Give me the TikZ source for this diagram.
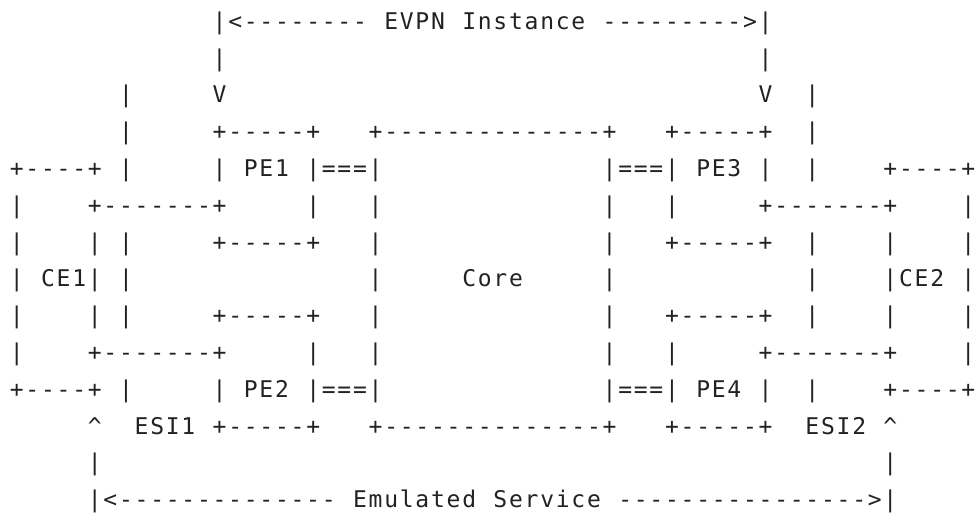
\documentclass[tikz,border=0pt]{standalone}
\usepackage{fontspec}
\newfontfamily\asciifont{DejaVu Sans Mono}
\definecolor{ink}{HTML}{222222}
\ExplSyntaxOn
\NewDocumentCommand\asciiline{m}
 {
  \str_map_inline:nn {#1}
   {
    \str_if_eq:nnTF {##1} {.}
     { \hbox_to_wd:nn {15.6pt} { } }
     { \hbox_to_wd:nn {15.6pt} { \hfil ##1 \hfil } }
   }
 }
\ExplSyntaxOff
\tikzset{asc/.style={anchor=base west, inner sep=0pt, outer sep=0pt,
  font=\asciifont\fontsize{23pt}{23pt}\selectfont, text=ink}}
\newcommand\aseg[3]{\node[asc] (r#1c#2) at ({9+#2*15.6},{29.3+(#1-1)*36.8}) {\asciiline{#3}};}
\begin{document}
\begin{tikzpicture}[x=1pt,y=-1pt]
\fill[white] (0,0) rectangle (977,514);
\useasboundingbox (0,0) rectangle (977,514);
% row 1
\aseg{1}{13}{|<--------}\aseg{1}{24}{EVPN}\aseg{1}{29}{Instance}\aseg{1}{38}{--------->|}
% row 2
\aseg{2}{13}{|}\aseg{2}{48}{|}
% row 3
\aseg{3}{7}{|}\aseg{3}{13}{V}\aseg{3}{48}{V}\aseg{3}{51}{|}
% row 4
\aseg{4}{7}{|}\aseg{4}{13}{+-----+}\aseg{4}{23}{+--------------+}\aseg{4}{42}{+-----+}\aseg{4}{51}{|}
% row 5
\aseg{5}{0}{+----+}\aseg{5}{7}{|}\aseg{5}{13}{|}\aseg{5}{15}{PE1}\aseg{5}{19}{|===|}
\aseg{5}{38}{|===|}\aseg{5}{44}{PE3}\aseg{5}{48}{|}\aseg{5}{51}{|}\aseg{5}{56}{+----+}
% row 6
\aseg{6}{0}{|}\aseg{6}{5}{+-------+}\aseg{6}{19}{|}\aseg{6}{23}{|}\aseg{6}{38}{|}
\aseg{6}{42}{|}\aseg{6}{48}{+-------+}\aseg{6}{61}{|}
% row 7
\aseg{7}{0}{|}\aseg{7}{5}{|}\aseg{7}{7}{|}\aseg{7}{13}{+-----+}\aseg{7}{23}{|}
\aseg{7}{38}{|}\aseg{7}{42}{+-----+}\aseg{7}{51}{|}\aseg{7}{56}{|}\aseg{7}{61}{|}
% row 8
\aseg{8}{0}{|}\aseg{8}{2}{CE1|}\aseg{8}{7}{|}\aseg{8}{23}{|}\aseg{8}{29}{Core}
\aseg{8}{38}{|}\aseg{8}{51}{|}\aseg{8}{56}{|CE2}\aseg{8}{61}{|}
% row 9
\aseg{9}{0}{|}\aseg{9}{5}{|}\aseg{9}{7}{|}\aseg{9}{13}{+-----+}\aseg{9}{23}{|}
\aseg{9}{38}{|}\aseg{9}{42}{+-----+}\aseg{9}{51}{|}\aseg{9}{56}{|}\aseg{9}{61}{|}
% row 10
\aseg{10}{0}{|}\aseg{10}{5}{+-------+}\aseg{10}{19}{|}\aseg{10}{23}{|}\aseg{10}{38}{|}
\aseg{10}{42}{|}\aseg{10}{48}{+-------+}\aseg{10}{61}{|}
% row 11
\aseg{11}{0}{+----+}\aseg{11}{7}{|}\aseg{11}{13}{|}\aseg{11}{15}{PE2}\aseg{11}{19}{|===|}
\aseg{11}{38}{|===|}\aseg{11}{44}{PE4}\aseg{11}{48}{|}\aseg{11}{51}{|}\aseg{11}{56}{+----+}
% row 12
\aseg{12}{5}{^}\aseg{12}{8}{ESI1}\aseg{12}{13}{+-----+}\aseg{12}{23}{+--------------+}
\aseg{12}{42}{+-----+}\aseg{12}{51}{ESI2}\aseg{12}{56}{^}
% row 13
\aseg{13}{5}{|}\aseg{13}{56}{|}
% row 14
\aseg{14}{5}{|<--------------}\aseg{14}{22}{Emulated}\aseg{14}{31}{Service}\aseg{14}{39}{---------------->|}
\end{tikzpicture}
\end{document}
